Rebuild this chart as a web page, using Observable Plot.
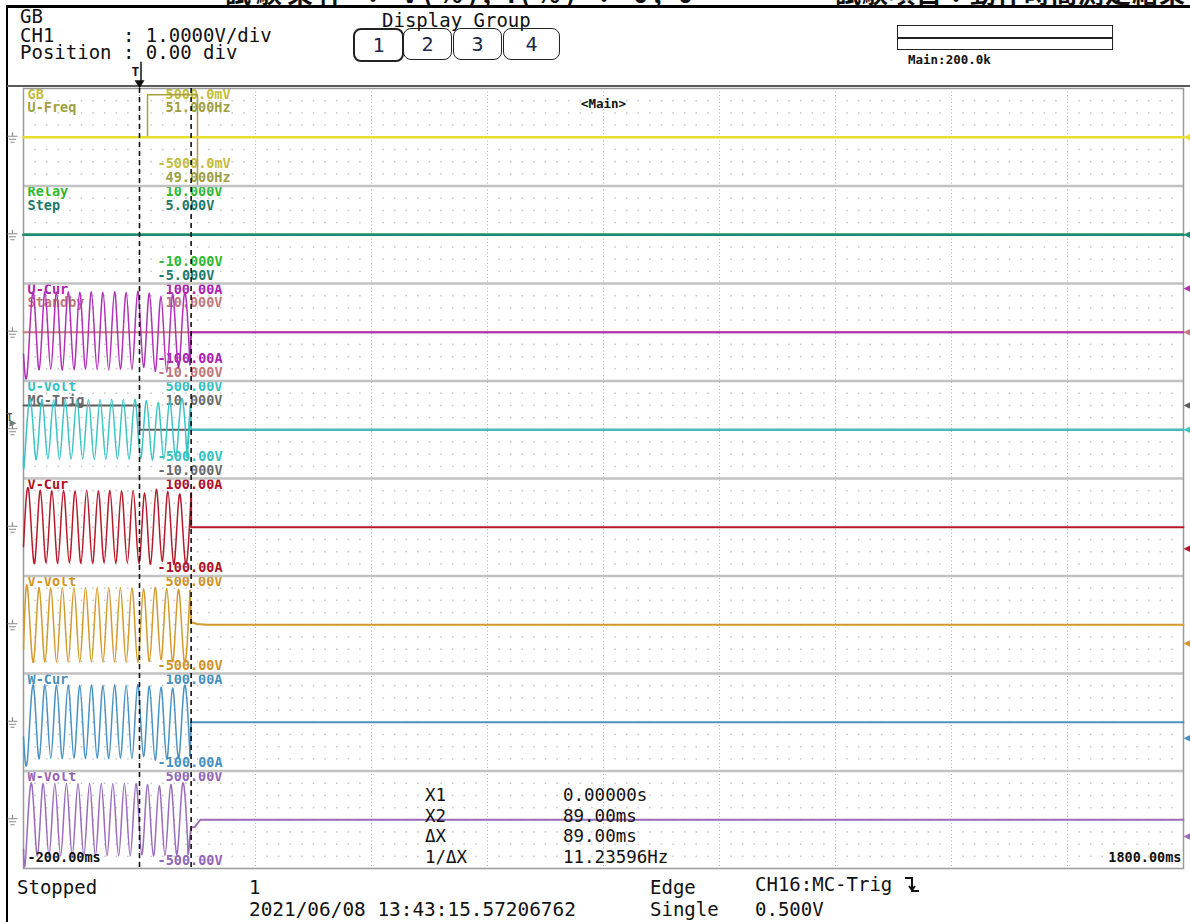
<!DOCTYPE html>
<html><head><meta charset="utf-8">
<script src="https://cdn.jsdelivr.net/npm/d3@7"></script>
<script src="https://cdn.jsdelivr.net/npm/@observablehq/plot@0.6"></script>
<style>
html,body{margin:0;padding:0;background:#fff;}
#wrap{position:relative;width:1190px;height:922px;overflow:hidden;background:#fff;font-family:"DejaVu Sans Mono",monospace;color:#111;}
.abs{position:absolute;white-space:pre;line-height:19px;}
.m19{font-size:19px;}
.btn{position:absolute;top:28px;height:30px;border:1.5px solid #222;border-radius:8px;text-align:center;font-size:20px;line-height:30px;color:#1c2a4a;box-sizing:content-box;}
#plot{position:absolute;left:0;top:0;}
</style></head><body><div id="wrap">
<div class="abs" style="left:0;top:0;width:1190px;height:6px;overflow:hidden;line-height:27px;">
  <span style="position:absolute;left:225px;top:-22px;font-family:'Noto Sans CJK JP';font-weight:bold;font-size:26px;letter-spacing:5px;">試験条件 ： V(%), I(%) ： 0, 0</span>
  <span style="position:absolute;left:835px;top:-22px;font-family:'Noto Sans CJK JP';font-weight:bold;font-size:26px;letter-spacing:1px;">試験項目：動作時間測定結果</span>
</div>
<div class="abs" style="left:7px;top:5px;width:1183px;height:3px;background:#000;"></div>
<div class="abs" style="left:6px;top:5px;width:2px;height:917px;background:#000;"></div>
<div class="abs" style="left:7px;top:85px;width:1183px;height:2px;background:#5a5a5a;"></div>
<div class="abs m19" style="left:20px;top:7px;">GB</div>
<div class="abs m19" style="left:20px;top:26px;">CH1      : 1.0000V/div</div>
<div class="abs m19" style="left:20px;top:43px;">Position : 0.00 div</div>
<div class="abs m19" style="left:382px;top:11px;">Display Group</div>
<div class="btn" style="left:353px;width:47px;border-width:2.5px;">1</div>
<div class="btn" style="left:403px;width:47px;">2</div>
<div class="btn" style="left:453px;width:47px;">3</div>
<div class="btn" style="left:503px;width:55px;">4</div>
<div class="abs" style="left:897px;top:25px;width:214px;height:23px;border:1.5px solid #222;"></div>
<div class="abs" style="left:897px;top:37px;width:216px;height:1.5px;background:#222;"></div>
<div class="abs" style="left:908px;top:50px;font-size:12.5px;font-weight:bold;">Main:200.0k</div>
<div id="plot"></div>
<div class="abs m19" style="left:17px;top:878px;">Stopped</div>
<div class="abs m19" style="left:249px;top:878px;">1</div>
<div class="abs m19" style="left:249px;top:900px;font-size:19.4px;">2021/06/08 13:43:15.57206762</div>
<div class="abs m19" style="left:650px;top:878px;">Edge</div>
<div class="abs m19" style="left:650px;top:900px;">Single</div>
<div class="abs m19" style="left:755px;top:875px;">CH16:MC-Trig <svg width="16" height="18" style="vertical-align:-2px"><path d="M1 3 H8 V16 H15 M5 11 L8 15 L11 11" fill="none" stroke="#111" stroke-width="2"/></svg></div>
<div class="abs m19" style="left:755px;top:900px;">0.500V</div>
<div id="readout"></div>
</div>
<script>
// ---------------- data ----------------
const timeRange = [-200, 1800];               // ms
const timeLabels = ["-200.00ms", "1800.00ms"];
const cursors = [0, 89];                       // X1, X2 in ms

const panelNames = [["GB","U-Freq"],["Relay","Step"],["U-Cur","Standby"],["U-Volt","MC-Trig"],["V-Cur"],["V-Volt"],["W-Cur"],["W-Volt"]];
const topScale = [["5000.0mV","51.000Hz"],["10.000V","5.000V"],["100.00A","10.000V"],["500.00V","10.000V"],["100.00A"],["500.00V"],["100.00A"],["500.00V"]];
const bottomScale = [["-5000.0mV","49.000Hz"],["-10.000V","-5.000V"],["-100.00A","-10.000V"],["-500.00V","-10.000V"],["-100.00A"],["-500.00V"],["-100.00A"],["-500.00V"]];

const gbT = [-200, 1800], gbV = [0, 0];
const uFreqT = [-200, 13.8, 13.8, 100, 100, 1800], uFreqV = [50, 50, 50.87, 50.87, 48.5, 48.5];
const relayT = [-200, 1800], relayV = [0, 0];
const stepT = [-200, 1800], stepV = [0, 0];
const standbyT = [-200, 1800], standbyV = [0, 0];
const mcTrigT = [-200, 0, 0, 1800], mcTrigV = [5, 5, 0, 0];

const uCurT = [-200,-193,-183,-173,-163,-153,-143,-133,-123,-113,-103,-93,-83,-73,-63,-53,-43,-33,-23,-13,-3,7,17,27,37,47,57,67,77,87];
const uCurV = [-45,-76,82,-77,83,-76,82,-78,83,-77,82,-76,83,-77,82,-78,83,-76,82,-77,84,-72,80,-80,74,-82,78,-72,76,-66];
const uCurTailT = [89, 1800], uCurTailV = [0, 0];

const uVoltT = [-200,-198,-188,-178,-168,-158,-148,-138,-128,-118,-108,-98,-88,-78,-68,-58,-48,-38,-28,-18,-8,2,12,22,32,42,52,62,72,82];
const uVoltV = [-280,-300,310,-305,312,-300,308,-304,310,-302,311,-300,309,-305,310,-302,312,-300,310,-304,312,-290,300,-310,280,-300,295,-285,305,-280];
const uVoltTailT = [88, 89, 1800], uVoltTailV = [250, 0, 0];

const vCurT = [-200,-191,-181,-171,-161,-151,-141,-131,-121,-111,-101,-91,-81,-71,-61,-51,-41,-31,-21,-11,-1,9,19,29,39,49,59,69,79,89];
const vCurV = [-40,75,-74,76,-73,75,-74,76,-73,75,-74,76,-74,75,-73,76,-74,75,-73,76,-74,70,-76,78,-70,74,-76,68,-72,70];
const vCurTailT = [89, 1800], vCurTailV = [0, 0];

const vVoltT = [-200,-193,-183,-173,-163,-153,-143,-133,-123,-113,-103,-93,-83,-73,-63,-53,-43,-33,-23,-13,-3,7,17,27,37,47,57,67,77,87];
const vVoltV = [-250,380,-385,382,-384,380,-386,381,-384,380,-385,382,-384,380,-386,381,-384,382,-385,380,-384,370,-380,385,-360,375,-380,360,-370,350];
const vVoltTailT = [89, 100, 115, 1800], vVoltTailV = [25, 8, 0, 0];

const wCurT = [-200,-193,-183,-173,-163,-153,-143,-133,-123,-113,-103,-93,-83,-73,-63,-53,-43,-33,-23,-13,-3,7,17,27,37,47,57,67,77,87];
const wCurV = [-30,-74,76,-75,77,-74,76,-75,77,-74,76,-75,77,-74,76,-75,77,-74,76,-75,77,-70,74,-78,72,-76,70,-74,72,-68];
const wCurTailT = [89, 1800], wCurTailV = [0, 0];

const wVoltT = [-200,-196,-186,-176,-166,-156,-146,-136,-126,-116,-106,-96,-86,-76,-66,-56,-46,-36,-26,-16,-6,4,14,24,34,44,54,64,74,84];
const wVoltV = [-300,-370,372,-371,373,-370,372,-371,373,-370,372,-371,373,-370,372,-371,373,-370,372,-371,373,-360,365,-372,350,-368,362,-355,360,-350];
const wVoltTailT = [89, 95, 105, 1800], wVoltTailV = [-80, -75, 0, 0];

const markerChannels = ["GB","Step","U-Cur","Standby","MC-Trig","U-Volt","V-Cur","V-Volt","W-Cur","W-Volt"];
const markerValues   = [0, 0, 90, 0, 5, 0, -44, -192, -33, -172];
const triggerLevel = 0.5; // V on MC-Trig

// ---------------- configuration ----------------
const channelScale = {
  "GB":{panel:0,center:0,fs:5000}, "U-Freq":{panel:0,center:50,fs:1},
  "Relay":{panel:1,center:0,fs:10}, "Step":{panel:1,center:0,fs:5},
  "U-Cur":{panel:2,center:0,fs:100}, "Standby":{panel:2,center:0,fs:10},
  "U-Volt":{panel:3,center:0,fs:500}, "MC-Trig":{panel:3,center:0,fs:10},
  "V-Cur":{panel:4,center:0,fs:100}, "V-Volt":{panel:5,center:0,fs:500},
  "W-Cur":{panel:6,center:0,fs:100}, "W-Volt":{panel:7,center:0,fs:500}
};
const lineColor = {
  "GB":"#e6e02c","U-Freq":"#a8a040","Relay":"#30b030","Step":"#1f8a74",
  "U-Cur":"#b030b8","Standby":"#c87878","U-Volt":"#3cc4c4","MC-Trig":"#5e5e5e",
  "V-Cur":"#b41a2a","V-Volt":"#d29a2a","W-Cur":"#4a92c2","W-Volt":"#9a6cba"
};
const labelColor = {
  "GB":"#c4bc3a","U-Freq":"#a0a040","Relay":"#30b830","Step":"#1f7a6a",
  "U-Cur":"#b020b0","Standby":"#c07878","U-Volt":"#34c0c0","MC-Trig":"#6a6a6a",
  "V-Cur":"#b01020","V-Volt":"#d09424","W-Cur":"#4890c0","W-Volt":"#9464b4"
};
const PH = 97.5;

function pos(name, v) {
  const c = channelScale[name];
  const n = Math.max(-1, Math.min(1, (v - c.center) / c.fs));
  return c.panel + 0.5 - n / 2;
}
const rows = (name, T, V) => T.map((t, i) => ({t, y: pos(name, V[i])}));
function waveMarks(name, T, V, tT, tV, w = 1.5) {
  const main = rows(name, T, V);
  const tail = [main[main.length - 1], ...rows(name, tT, tV)];
  return [
    Plot.line(main, {x: "t", y: "y", stroke: lineColor[name], strokeWidth: w, curve: "natural"}),
    Plot.line(tail, {x: "t", y: "y", stroke: lineColor[name], strokeWidth: 2})
  ];
}
const flat = (name, T, V, w) => Plot.line(rows(name, T, V), {x: "t", y: "y", stroke: lineColor[name], strokeWidth: w});

// labels
const labelRows = [];
panelNames.forEach((names, p) => names.forEach((nm, i) => {
  const nb = names.length;
  const yTop = p + (6 + 13.5 * i) / PH;
  const yBot = p + 1 - (8 + 14 * (nb - 1 - i)) / PH;
  labelRows.push({kind: "name", text: nm, y: yTop, color: labelColor[nm]});
  labelRows.push({kind: "scale", text: topScale[p][i], y: yTop, color: labelColor[nm]});
  labelRows.push({kind: "scale", text: bottomScale[p][i], y: yBot, color: labelColor[nm]});
}));
const lblFont = {fontFamily: "DejaVu Sans Mono", fontSize: 13.5, fontWeight: "bold", lineAnchor: "middle", textAnchor: "start"};

// grid decoration
const minorX = d3.range(timeRange[0] + 20, timeRange[1], 20).filter(t => t % 200 !== 0);
const minorDots = [];
for (let p = 0; p < 8; p++) for (let k = 1; k < 8; k++) for (const t of minorX) minorDots.push({t, y: p + k / 8});

const groundSym = {draw(ctx){ ctx.moveTo(0,-5); ctx.lineTo(0,-1); ctx.moveTo(-5,-1); ctx.lineTo(5,-1); ctx.moveTo(-3.5,2); ctx.lineTo(3.5,2); ctx.moveTo(-2,5); ctx.lineTo(2,5); }};
const leftArrow = {draw(ctx){ ctx.moveTo(-3.5,0); ctx.lineTo(3.5,-3.5); ctx.lineTo(3.5,3.5); ctx.closePath(); }};
const rightArrow = {draw(ctx){ ctx.moveTo(4,0); ctx.lineTo(-3,-3.5); ctx.lineTo(-3,3.5); ctx.closePath(); }};
const downArrow = {draw(ctx){ ctx.moveTo(0,5); ctx.lineTo(-5,-3); ctx.lineTo(5,-3); ctx.closePath(); }};

const markers = markerChannels.map((c, i) => ({c, y: pos(c, markerValues[i])}));

const chart = Plot.plot({
  width: 1190, height: 922,
  marginLeft: 23, marginRight: 7, marginTop: 88, marginBottom: 54,
  x: {domain: timeRange, axis: null},
  y: {domain: [0, 8], reverse: true, axis: null},
  style: {background: "transparent", overflow: "visible"},
  marks: [
    Plot.dot(minorDots, {x: "t", y: "y", r: 0.9, fill: "#c9c9c9"}),
    Plot.ruleX(d3.range(timeRange[0] + 200, timeRange[1], 200), {stroke: "#b0b0b0", strokeDasharray: "1,2.5", strokeWidth: 1}),
    Plot.text(labelRows.filter(d => d.kind === "name"), {...lblFont, y: "y", text: "text", fill: "color", frameAnchor: "left", dx: 4}),
    Plot.text(labelRows.filter(d => d.kind === "scale" && !d.text.startsWith("-")), {...lblFont, y: "y", text: "text", fill: "color", frameAnchor: "left", dx: 142}),
    Plot.text(labelRows.filter(d => d.kind === "scale" && d.text.startsWith("-")), {...lblFont, y: "y", text: "text", fill: "color", frameAnchor: "left", dx: 134}),
    flat("U-Freq", uFreqT, uFreqV, 1.5),
    Plot.ruleY(d3.range(1, 8), {stroke: "#c2c2c2", strokeWidth: 2.5}),
    Plot.frame({stroke: "#9a9a9a", strokeWidth: 1.5}),
    flat("GB", gbT, gbV, 2.6),
    flat("Relay", relayT, relayV, 2.5),
    flat("Step", stepT, stepV, 2.5),
    flat("Standby", standbyT, standbyV, 2),
    ...waveMarks("U-Cur", uCurT, uCurV, uCurTailT, uCurTailV),
    flat("MC-Trig", mcTrigT, mcTrigV, 2),
    ...waveMarks("U-Volt", uVoltT, uVoltV, uVoltTailT, uVoltTailV),
    ...waveMarks("V-Cur", vCurT, vCurV, vCurTailT, vCurTailV),
    ...waveMarks("V-Volt", vVoltT, vVoltV, vVoltTailT, vVoltTailV),
    ...waveMarks("W-Cur", wCurT, wCurV, wCurTailT, wCurTailV),
    ...waveMarks("W-Volt", wVoltT, wVoltV, wVoltTailT, wVoltTailV),
    Plot.ruleX(cursors, {y1: 0, y2: 8, stroke: "#111", strokeWidth: 1.6, strokeDasharray: "5,4"}),
    Plot.dot(d3.range(8), {x: timeRange[0], y: d => d + 0.5, dx: -11, symbol: groundSym, r: 6, stroke: "#8a8a8a", fill: "none", strokeWidth: 1.2}),
    Plot.dot(markers, {x: timeRange[1], y: "y", dx: 3.5, symbol: leftArrow, r: 5, fill: d => lineColor[d.c], stroke: "none"}),
    Plot.dot([triggerLevel], {x: timeRange[0], y: d => pos("MC-Trig", d), dx: -11, dy: -4, symbol: rightArrow, r: 5, fill: "#777"}),
    Plot.text(["T"], {x: timeRange[0], y: pos("MC-Trig", triggerLevel), dx: -14, dy: -10, fontFamily: "DejaVu Sans Mono", fontSize: 10, fontWeight: "bold", fill: "#555"}),
    Plot.text(["T"], {x: cursors[0], y: -0.17, dx: -4, fontFamily: "DejaVu Sans Mono", fontSize: 13, fontWeight: "bold", fill: "#111"}),
    Plot.ruleX([cursors[0]], {y1: -0.27, y2: -0.03, dx: 1.5, stroke: "#111", strokeWidth: 1.5}),
    Plot.dot([cursors[0]], {x: d => d, y: -0.055, symbol: downArrow, r: 6, fill: "#111"}),
    Plot.text([timeLabels[0]], {frameAnchor: "bottom-left", dx: 4, dy: -7, fontFamily: "DejaVu Sans Mono", fontSize: 13.5, fontWeight: "bold", fill: "#111", textAnchor: "start"}),
    Plot.text([timeLabels[1]], {frameAnchor: "bottom-right", dx: -2, dy: -7, fontFamily: "DejaVu Sans Mono", fontSize: 13.5, fontWeight: "bold", fill: "#111", textAnchor: "end"}),
    Plot.text(["<Main>"], {frameAnchor: "top", dy: 11, fontFamily: "DejaVu Sans Mono", fontSize: 12.5, fontWeight: "bold", fill: "#111"})
  ]
});
document.getElementById("plot").appendChild(chart);

// cursor readout
const dX = cursors[1] - cursors[0];
const readRows = [
  ["X1", (cursors[0] / 1000).toFixed(5) + "s"],
  ["X2", cursors[1].toFixed(2) + "ms"],
  ["\u0394X", dX.toFixed(2) + "ms"],
  ["1/\u0394X", (1000 / dX).toFixed(5) + "Hz"]
];
const ro = document.getElementById("readout");
readRows.forEach((r, i) => {
  const a = document.createElement("div"); a.className = "abs"; a.style.cssText = `left:425px;top:${786 + i * 20.5}px;font-size:17.5px;`; a.textContent = r[0]; ro.appendChild(a);
  const b = document.createElement("div"); b.className = "abs"; b.style.cssText = `left:563px;top:${786 + i * 20.5}px;font-size:17.5px;`; b.textContent = r[1]; ro.appendChild(b);
});
</script>
</body></html>
